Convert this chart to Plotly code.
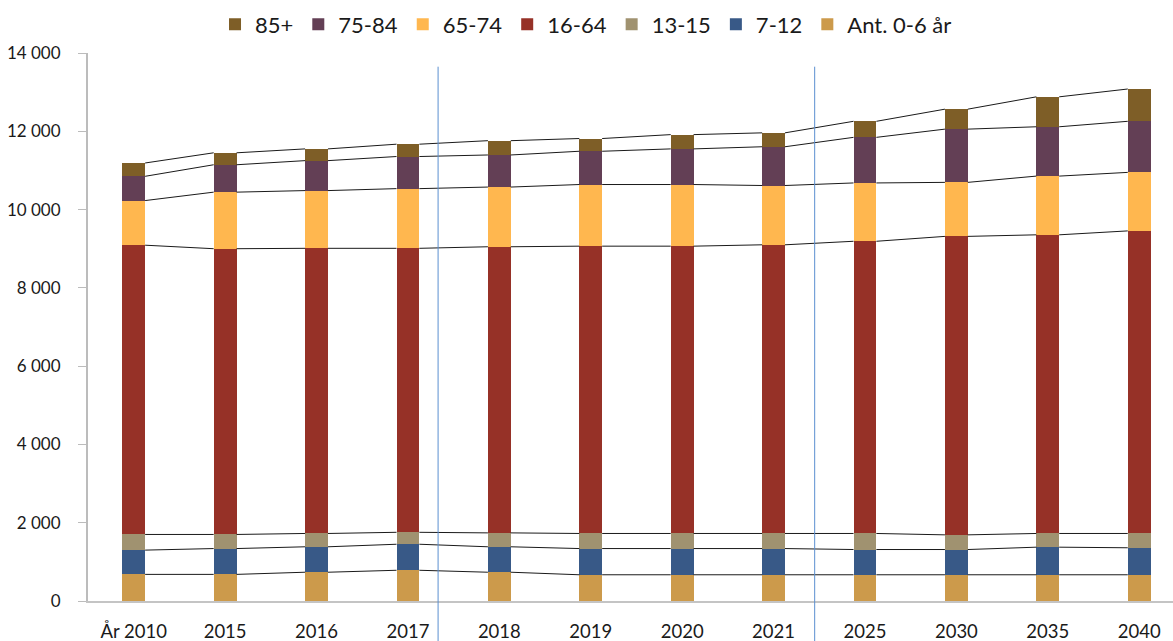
import plotly.graph_objects as go

# Befolkning per åldersgrupp, utfall och prognos
years = ["År 2010", "2015", "2016", "2017", "2018", "2019", "2020", "2021",
         "2025", "2030", "2035", "2040"]

age_0_6 = [680, 680, 735, 785, 735, 670, 670, 670, 670, 670, 670, 670]
age_7_12 = [620, 660, 650, 665, 650, 670, 670, 670, 645, 645, 705, 690]
age_13_15 = [400, 360, 340, 305, 355, 385, 385, 385, 410, 375, 350, 365]
age_16_64 = [7390, 7300, 7285, 7255, 7310, 7340, 7340, 7375, 7465, 7625, 7630, 7730]
age_65_74 = [1140, 1445, 1475, 1525, 1525, 1575, 1575, 1515, 1490, 1380, 1500, 1495]
age_75_84 = [620, 700, 765, 820, 820, 850, 910, 990, 1165, 1360, 1260, 1305]
age_85 = [340, 305, 300, 315, 365, 325, 365, 355, 410, 510, 765, 825]

# bottom to top
series = [
    ("Ant. 0-6 år", age_0_6, "#cc9a4b"),
    ("7-12", age_7_12, "#385987"),
    ("13-15", age_13_15, "#a09270"),
    ("16-64", age_16_64, "#963127"),
    ("65-74", age_65_74, "#ffb74f"),
    ("75-84", age_75_84, "#633f55"),
    ("85+", age_85, "#7e5e27"),
]

# split between utfall / prognos periods
dividers = [3.33, 7.45]

BAR_W = 0.25
xs = list(range(len(years)))

fig = go.Figure()

cum = [0] * len(years)
for name, vals, color in series:
    fig.add_trace(go.Bar(
        x=xs, y=vals, name=name, width=BAR_W,
        marker=dict(color=color, line_width=0),
    ))
    cum = [c + v for c, v in zip(cum, vals)]
    # series lines between the stacked bars
    lx, ly = [], []
    for i in range(len(years) - 1):
        lx += [i + BAR_W / 2, i + 1 - BAR_W / 2, None]
        ly += [cum[i], cum[i + 1], None]
    fig.add_trace(go.Scatter(
        x=lx, y=ly, mode="lines", showlegend=False, hoverinfo="skip",
        line=dict(color="#1a1a1a", width=1),
    ))

for d in dividers:
    fig.add_shape(type="line", xref="x", yref="paper", x0=d, x1=d,
                  y0=0.975, y1=-0.08,
                  line=dict(color="#5b8fd0", width=1))

fig.update_layout(
    width=1173, height=641,
    margin=dict(l=88, r=0, t=53, b=40),
    barmode="stack",
    plot_bgcolor="white", paper_bgcolor="white",
    separators=", ",
    font=dict(family="Lato, sans-serif", size=17, color="#1a1a1a"),
    legend=dict(
        orientation="h", traceorder="reversed",
        x=0.459, xanchor="center", y=1.052, yanchor="middle",
        font=dict(size=22), itemwidth=30,
    ),
    showlegend=True,
)

fig.update_xaxes(
    range=[-0.5, 11.37],
    tickvals=xs, ticktext=years, tickfont=dict(size=18.5),
    showline=True, linecolor="#c4c4c4", linewidth=2,
    ticks="", showgrid=False, zeroline=False,
    ticklabelstandoff=13,
)
fig.update_yaxes(
    range=[0, 14000], dtick=2000, tickformat=",d",
    showline=True, linecolor="#bcbcbc", linewidth=2,
    ticks="outside", ticklen=8, tickcolor="#bcbcbc",
    showgrid=False, zeroline=False,
    ticklabelstandoff=14,
)

fig.write_html("out.html", config={"displayModeBar": False},
               post_script="document.body.style.margin='0';")
